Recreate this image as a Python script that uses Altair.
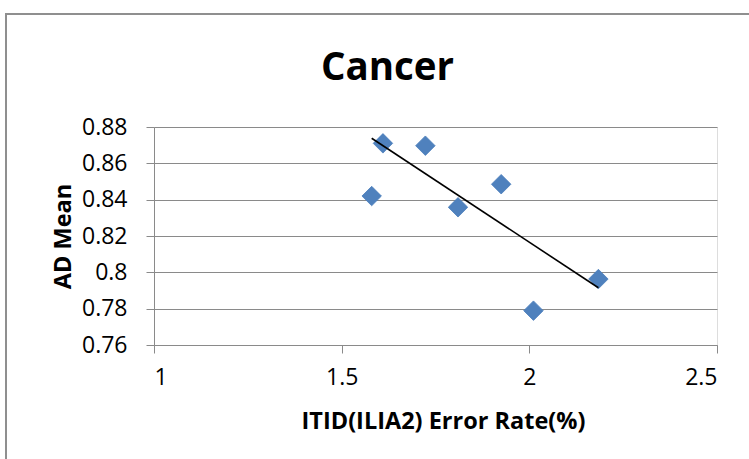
import altair as alt
import pandas as pd

# Data
error_rate = [1.580, 1.610, 1.723, 1.810, 1.925, 2.011, 2.184]
ad_mean = [0.842, 0.871, 0.8697, 0.8358, 0.8485, 0.7789, 0.7963]

trend_x = [1.580, 2.184]
trend_y = [0.8738, 0.7915]

x_ticks = [1, 1.5, 2, 2.5]
y_ticks = [0.76, 0.78, 0.80, 0.82, 0.84, 0.86, 0.88]

pts = pd.DataFrame({"x": error_rate, "y": ad_mean})
trend = pd.DataFrame({"x": trend_x, "y": trend_y})

FONT = "Open Sans"
GRID = "#8a8a8a"

xscale = alt.Scale(domain=[1, 2.5], nice=False, zero=False)
yscale = alt.Scale(domain=[0.76, 0.88], nice=False, zero=False)

xaxis = alt.Axis(
    values=x_ticks, format=".1~f", grid=False, labelOverlap=False,
    domainColor=GRID, tickColor=GRID, tickSize=8, domainWidth=1,
    labelFont=FONT, labelFontSize=23, labelColor="#000", labelPadding=13,
    title="ITID(ILIA2) Error Rate(%)", titleFont=FONT, titleFontSize=23.5,
    titleFontWeight="bold", titleColor="#000", titleX=289, titleY=83,
    titleBaseline="alphabetic", titleAlign="center",
)
yaxis = alt.Axis(
    values=y_ticks, format=".2~f", grid=True, gridColor=GRID, gridWidth=1,
    labelOverlap=False, tickCount=7,
    domainColor=GRID, tickColor=GRID, tickSize=8, domainWidth=1,
    labelFont=FONT, labelFontSize=23, labelColor="#000", labelPadding=19,
    title="AD Mean", titleFont=FONT, titleFontSize=23.5, titleFontWeight="bold",
    titleColor="#000", titleAngle=270, titleX=-84, titleY=109,
    titleBaseline="alphabetic", titleAlign="center",
)

frame = alt.Chart(alt.Data(values=[{"k": 1}])).mark_rect(
    fill=None, stroke="#8f8f8f", strokeWidth=2
).encode(
    x=alt.value(-148), y=alt.value(-113), x2=alt.value(640), y2=alt.value(360)
)

points = alt.Chart(pts).mark_point(
    shape="diamond", filled=True, size=380, color="#4F81BD", opacity=1,
    stroke="#4A7EBB", strokeWidth=0.8,
).encode(
    x=alt.X("x:Q", scale=xscale, axis=xaxis),
    y=alt.Y("y:Q", scale=yscale, axis=yaxis),
)

line = alt.Chart(trend).mark_line(color="#000000", strokeWidth=1.6).encode(
    x=alt.X("x:Q", scale=xscale, axis=xaxis),
    y=alt.Y("y:Q", scale=yscale, axis=yaxis),
)

chart = alt.layer(frame, points, line).properties(
    width=563,
    height=218,
    padding={"left": 154, "top": 127, "right": 32, "bottom": 114},
    autosize=alt.AutoSizeParams(type="none"),
    title=alt.TitleParams(
        text="Cancer", font=FONT, fontSize=38.5, fontWeight="bold",
        color="#000", anchor="middle", frame="group", dx=-48, dy=105,
        baseline="alphabetic", offset=0,
    ),
).configure_view(stroke=None).configure(background="white")

chart.save("out.html", embed_options={"renderer": "svg", "actions": False})
